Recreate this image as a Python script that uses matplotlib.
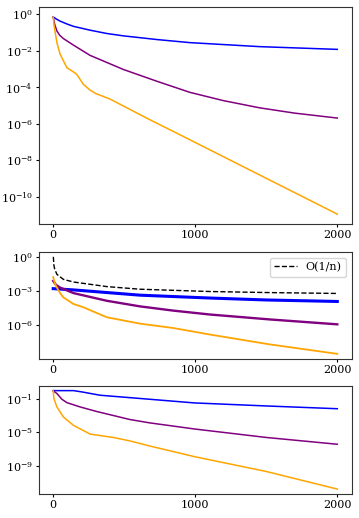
import numpy as np
import matplotlib
matplotlib.use("Agg")
import matplotlib.pyplot as plt
from matplotlib.ticker import FixedLocator, NullLocator, LogFormatterSciNotation

plt.rcParams['font.family'] = 'DejaVu Serif'
plt.rcParams['mathtext.fontset'] = 'dejavuserif'
plt.rcParams['font.size'] = 8

# --- top panel (values read as log10) ---
top_blue_n = [0, 20, 50, 100, 143, 260, 377, 494, 728, 961, 1453, 2000]
top_blue_log = [-0.15, -0.26, -0.39, -0.55, -0.67, -0.88, -1.06, -1.19, -1.39, -1.56, -1.78, -1.93]
top_purple_n = [0, 10, 26, 45, 72, 143, 260, 494, 728, 961, 1195, 1453, 1700, 2000]
top_purple_log = [-0.15, -0.55, -0.92, -1.15, -1.34, -1.70, -2.26, -3.03, -3.67, -4.28, -4.73, -5.13, -5.42, -5.69]
top_orange_n = [0, 5, 14, 26, 49, 96, 140, 166, 213, 260, 300, 400, 680, 891, 2000]
top_orange_log = [-0.15, -0.55, -1.00, -1.56, -2.20, -2.93, -3.15, -3.30, -3.85, -4.16, -4.35, -4.65, -5.78, -6.60, -10.95]

# --- middle panel ---
mid_ref_n = [1, 5, 10, 26, 72, 143, 377, 611, 1102, 1500, 2000]
mid_ref_log = [0.0, -0.75, -1.05, -1.53, -1.97, -2.20, -2.60, -2.83, -3.03, -3.12, -3.20]
mid_blue_n = [0, 143, 377, 611, 1102, 1500, 2000]
mid_blue_log = [-2.78, -2.89, -3.12, -3.35, -3.60, -3.77, -3.90]
mid_purple_n = [0, 20, 49, 143, 377, 611, 845, 1102, 1523, 2000]
mid_purple_log = [-2.11, -2.45, -2.69, -3.17, -3.84, -4.33, -4.70, -5.04, -5.47, -5.90]
mid_orange_n = [0, 10, 26, 50, 72, 143, 213, 377, 611, 845, 1102, 1523, 2000]
mid_orange_log = [-1.77, -2.25, -2.69, -3.20, -3.55, -4.12, -4.41, -5.28, -5.84, -6.22, -6.79, -7.65, -8.48]

# --- bottom panel ---
bot_blue_n = [0, 143, 200, 330, 563, 996, 1500, 2000]
bot_blue_log = [-0.05, -0.05, -0.20, -0.60, -0.92, -1.52, -1.88, -2.21]
bot_purple_n = [0, 26, 61, 96, 190, 306, 423, 540, 680, 1000, 1500, 2000]
bot_purple_log = [-0.07, -0.39, -1.08, -1.48, -2.00, -2.54, -3.02, -3.50, -3.90, -4.64, -5.64, -6.45]
bot_orange_n = [0, 5, 26, 72, 143, 260, 423, 540, 680, 1000, 1500, 2000]
bot_orange_log = [-0.07, -1.00, -2.00, -3.20, -4.20, -5.24, -5.64, -6.05, -6.66, -7.95, -9.70, -11.80]

x_ticks = [0, 1000, 2000]
top_yticks = [1e0, 1e-2, 1e-4, 1e-6, 1e-8, 1e-10]
mid_yticks = [1e0, 1e-3, 1e-6]
bot_yticks = [1e-1, 1e-5, 1e-9]

W, H = 359, 518
fig = plt.figure(figsize=(W / 100, H / 100), dpi=100)

def box(x0, y0, x1, y1):
    # pixel box -> figure fraction
    return [x0 / W, 1 - y1 / H, (x1 - x0) / W, (y1 - y0) / H]

ax1 = fig.add_axes(box(39, 7, 351.5, 224))
ax2 = fig.add_axes(box(39, 252, 351.5, 358.7))
ax3 = fig.add_axes(box(39, 385.7, 351.5, 494))

def pw(v):
    return 10.0 ** np.asarray(v)

ax1.plot(top_blue_n, pw(top_blue_log), color='blue', lw=1.1)
ax1.plot(top_purple_n, pw(top_purple_log), color='purple', lw=1.1)
ax1.plot(top_orange_n, pw(top_orange_log), color='orange', lw=1.1)

ax2.plot(mid_ref_n, pw(mid_ref_log), 'k--', lw=1.0, label='O(1/n)')
ax2.plot(mid_blue_n, pw(mid_blue_log), color='blue', lw=2.2)
ax2.plot(mid_purple_n, pw(mid_purple_log), color='purple', lw=1.7)
ax2.plot(mid_orange_n, pw(mid_orange_log), color='orange', lw=1.3)
ax2.legend(loc='upper right', fontsize=8)

ax3.plot(bot_blue_n, pw(bot_blue_log), color='blue', lw=1.1)
ax3.plot(bot_purple_n, pw(bot_purple_log), color='purple', lw=1.1)
ax3.plot(bot_orange_n, pw(bot_orange_log), color='orange', lw=1.1)

for ax, yt in ((ax1, top_yticks), (ax2, mid_yticks), (ax3, bot_yticks)):
    ax.set_yscale('log')
    ax.yaxis.set_major_locator(FixedLocator(yt))
    ax.yaxis.set_major_formatter(LogFormatterSciNotation())
    ax.yaxis.set_minor_locator(NullLocator())
    ax.set_xticks(x_ticks)
    ax.tick_params(length=2.5, pad=2)
    for s in ax.spines.values():
        s.set_color('#333333')

fig.savefig('out.png', dpi=100)
